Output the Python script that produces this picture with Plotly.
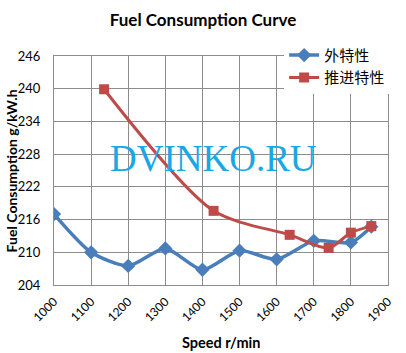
import plotly.graph_objects as go

# Data
outer_speed = [1000, 1100, 1200, 1300, 1400, 1500, 1600, 1700, 1800, 1855]
outer_fuel = [217.0, 210.0, 207.5, 210.7, 206.8, 210.3, 208.7, 212.1, 211.8, 214.7]
prop_speed = [1135, 1430, 1635, 1740, 1800, 1855]
prop_fuel = [239.9, 217.6, 213.2, 210.8, 213.6, 214.8]
x_ticks = [1000, 1100, 1200, 1300, 1400, 1500, 1600, 1700, 1800, 1900]
y_ticks = [204, 210, 216, 222, 228, 234, 240, 246]
series_names = ["外特性", "推进特性"]

BLUE = "#4A7EBB"
RED = "#BE4B48"
GRID = "#8C8C8C"

fig = go.Figure()
fig.add_trace(go.Scatter(
    x=outer_speed, y=outer_fuel, name=series_names[0], mode="lines+markers",
    line=dict(color=BLUE, width=3.5, shape="spline", smoothing=0.7),
    marker=dict(symbol="diamond", size=11, color=BLUE),
))
fig.add_trace(go.Scatter(
    x=prop_speed, y=prop_fuel, name=series_names[1], mode="lines+markers",
    line=dict(color=RED, width=3, shape="spline", smoothing=0.8),
    marker=dict(symbol="square", size=10, color=RED),
))

fig.update_layout(
    width=406, height=353,
    margin=dict(l=54, r=18, t=56, b=68),
    paper_bgcolor="white", plot_bgcolor="white",
    font=dict(family="Lato, Open Sans, sans-serif", size=12, color="#000"),
    title=dict(text="<b>Fuel Consumption Curve</b>", x=0.5, xref="container", xanchor="center",
               y=1 - 20 / 353, yref="container", yanchor="middle",
               font=dict(family="Lato, sans-serif", size=17, color="#000")),
    showlegend=True,
    legend=dict(x=0.689, y=1.075, xanchor="left", yanchor="top", bgcolor="white",
                font=dict(family="Noto Sans CJK SC", size=15, color="#000"),
                tracegroupgap=0, itemwidth=30),
)
fig.update_xaxes(
    range=[1000, 1900], tickvals=x_ticks, ticktext=[str(v) for v in x_ticks], tickangle=-45,
    showgrid=True, gridcolor=GRID, gridwidth=1, showline=True, linecolor=GRID, linewidth=1,
    mirror=True, zeroline=False, ticks="outside", ticklen=4, tickcolor="rgba(0,0,0,0)",
    tickfont=dict(size=12, color="#000"),
)
fig.update_yaxes(
    range=[204, 246], tickvals=y_ticks, ticktext=[str(v) for v in y_ticks],
    showgrid=True, gridcolor=GRID, gridwidth=1, showline=True, linecolor=GRID, linewidth=1,
    mirror=True, zeroline=False, ticks="outside", ticklen=10, tickcolor="rgba(0,0,0,0)",
    tickfont=dict(size=13, color="#000"),
)
fig.add_annotation(text="<b>Fuel Consumption g/kW.h</b>", xref="paper", yref="paper",
                   x=-0.126, y=0.5, xanchor="center", yanchor="middle", textangle=-90,
                   showarrow=False, font=dict(family="Lato, sans-serif", size=14, color="#000"))
fig.add_annotation(text="<b>Speed r/min</b>", xref="paper", yref="paper",
                   x=0.5, y=-0.249, xanchor="center", yanchor="middle",
                   showarrow=False, font=dict(family="Lato, sans-serif", size=14.5, color="#000"))
fig.add_annotation(text="DVINKO.RU", xref="paper", yref="paper",
                   x=(213 - 54) / 334, y=(285 - 158) / 229, xanchor="center", yanchor="middle",
                   showarrow=False,
                   font=dict(family="Liberation Serif, Times New Roman, serif", size=37, color="#1AA7E3"))

fig.write_html("out.html")
